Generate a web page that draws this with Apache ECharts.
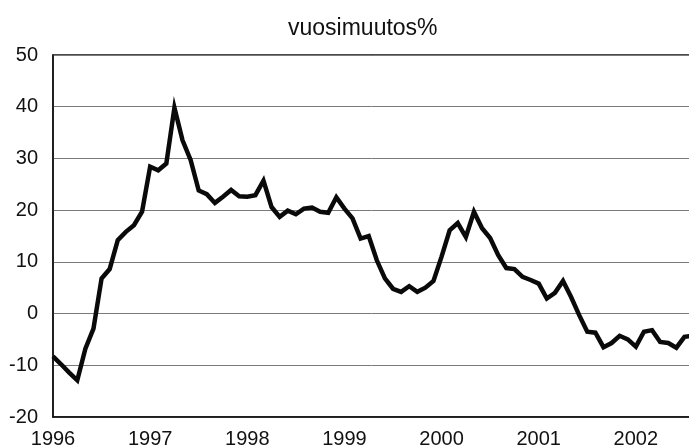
<!DOCTYPE html>
<html>
<head>
<meta charset="utf-8">
<script src="https://cdn.jsdelivr.net/npm/echarts@6/dist/echarts.min.js"></script>
<style>
html,body{margin:0;padding:0;background:#fff;}
#chart{width:689px;height:447px;}
</style>
</head>
<body>
<div id="chart"></div>
<script>
// Tick labels (years), monthly data starts January 1996
const years = ['1996','1997','1998','1999','2000','2001','2002','2003'];
const yTicks = [-20, -10, 0, 10, 20, 30, 40, 50];
const subtitle = 'vuosimuutos%';

// Year-on-year change %, monthly values
const v1996 = [-8.3, -9.8, -11.4, -12.9, -6.8, -2.9, 6.8, 8.6, 14.2, 15.8, 17.1, 19.7];
const v1997 = [28.4, 27.7, 29.0, 39.8, 33.5, 29.7, 23.8, 23.1, 21.4, 22.6, 23.9, 22.7];
const v1998 = [22.6, 22.9, 25.7, 20.6, 18.7, 19.9, 19.2, 20.3, 20.5, 19.7, 19.5, 22.5];
const v1999 = [20.3, 18.4, 14.5, 15.0, 10.3, 6.8, 4.8, 4.2, 5.3, 4.2, 5.0, 6.3];
const v2000 = [11.0, 16.1, 17.5, 14.8, 19.7, 16.5, 14.6, 11.3, 8.8, 8.6, 7.1, 6.5];
const v2001 = [5.8, 2.9, 4.0, 6.3, 3.2, -0.3, -3.5, -3.7, -6.5, -5.7, -4.3, -5.0];
const v2002 = [-6.4, -3.5, -3.2, -5.5, -5.7, -6.6, -4.5, -4.3];

const values = [].concat(v1996, v1997, v1998, v1999, v2000, v2001, v2002);
const seriesData = values.map((v, i) => [i, v]);

const FONT = '"Liberation Sans", Arial, Helvetica, sans-serif';
const chart = echarts.init(document.getElementById('chart'), null, {renderer: 'canvas'});
chart.setOption({
  animation: false,
  backgroundColor: '#ffffff',
  title: {
    text: subtitle,
    left: 283,
    top: 12,
    textStyle: {fontFamily: FONT, fontSize: 23, fontWeight: 'normal', color: '#111'}
  },
  grid: {
    left: 53, top: 55, width: 680, height: 362,
    containLabel: false,
    outerBoundsMode: 'none',
    show: true, borderColor: '#111', borderWidth: 1.5, backgroundColor: 'transparent'
  },
  xAxis: {
    type: 'value',
    min: 0, max: (years.length - 1) * 12, interval: 12,
    axisLine: {show: true, onZero: false, lineStyle: {color: '#111', width: 1.5}},
    axisTick: {show: false},
    splitLine: {show: false},
    axisLabel: {
      margin: 12,
      fontFamily: FONT, fontSize: 20, color: '#111',
      formatter: v => years[Math.round(v / 12)]
    }
  },
  yAxis: {
    type: 'value',
    min: yTicks[0], max: yTicks[yTicks.length - 1], interval: 10,
    axisLine: {show: true, lineStyle: {color: '#111', width: 1.5}},
    axisTick: {show: false},
    splitLine: {show: true, lineStyle: {color: '#7a7a7a', width: 1}},
    axisLabel: {margin: 15, fontFamily: FONT, fontSize: 20, color: '#111'}
  },
  series: [{
    type: 'line',
    data: seriesData,
    showSymbol: false,
    symbol: 'none',
    lineStyle: {color: '#0a0a0a', width: 4.5, join: 'miter'},
    silent: true
  }]
});
</script>
</body>
</html>
